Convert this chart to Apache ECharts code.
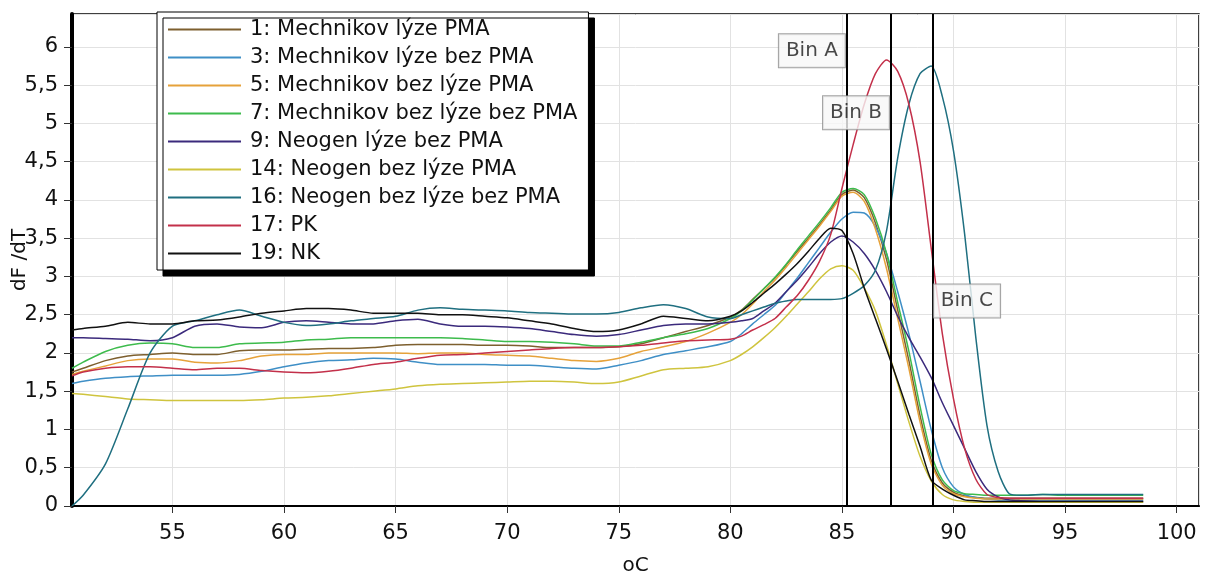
<!DOCTYPE html>
<html>
<head>
<meta charset="utf-8">
<script src="https://cdn.jsdelivr.net/npm/echarts@6/dist/echarts.min.js"></script>
<style>
  html, body { margin: 0; padding: 0; background: #fff; }
  #chart { width: 1208px; height: 575px; }
</style>
</head>
<body>
<div id="chart"></div>
<script>
// Melting temperatures (°C) shared by every curve
const temps = [
  50.5, 51, 52, 53, 54, 55, 56, 57, 58, 59, 60, 61, 62, 63, 64, 65, 66, 67, 68, 69,
  70, 71, 72, 73, 74, 75, 76, 77, 78, 79, 80, 80.5, 81, 81.5, 82, 82.5, 83, 83.5,
  84, 84.5, 85, 85.5, 86, 86.5, 87, 87.5, 88, 88.5, 89, 89.5, 90, 90.5, 91, 91.5,
  92, 92.5, 93, 94, 95, 96, 97, 98.5
];

const seriesNames = [
  '1: Mechnikov lýze PMA',
  '3: Mechnikov lýze bez PMA',
  '5: Mechnikov bez lýze PMA',
  '7: Mechnikov bez lýze bez PMA',
  '9: Neogen lýze bez PMA',
  '14: Neogen bez lýze PMA',
  '16: Neogen bez lýze bez PMA',
  '17: PK',
  '19: NK'
];

// dF/dT melt curves, one value per temperature above
const s1 = [
  1.75, 1.8, 1.9, 1.96, 1.98, 2.0, 1.98, 1.98, 2.03, 2.04, 2.04, 2.05, 2.06, 2.06, 2.07, 2.1, 2.11, 2.11, 2.11, 2.1,
  2.1, 2.09, 2.07, 2.07, 2.07, 2.08, 2.12, 2.2, 2.28, 2.36, 2.47,
  2.56, 2.7, 2.84, 2.98, 3.15, 3.33, 3.5, 3.68, 3.87, 4.07, 4.13, 4.03, 3.7, 3.22, 2.56, 1.9, 1.18, 0.6, 0.3, 0.18,
  0.13, 0.11, 0.1, 0.1, 0.1, 0.1, 0.1, 0.1, 0.1, 0.1, 0.1
];
const s3 = [
  1.6, 1.63, 1.67, 1.69, 1.7, 1.71, 1.71, 1.71, 1.72, 1.76, 1.82, 1.87, 1.9, 1.91, 1.93, 1.92, 1.88, 1.85, 1.85, 1.85,
  1.84, 1.84, 1.82, 1.8, 1.79, 1.84, 1.9, 1.98, 2.03, 2.08, 2.15,
  2.25, 2.38, 2.5, 2.62, 2.8, 2.98, 3.18, 3.38, 3.58, 3.75, 3.84, 3.83, 3.65, 3.3, 2.8, 2.25, 1.63, 1.0, 0.5, 0.25,
  0.15, 0.11, 0.09, 0.08, 0.08, 0.08, 0.08, 0.08, 0.08, 0.08, 0.08
];
const s5 = [
  1.72, 1.76, 1.83, 1.9, 1.92, 1.92, 1.88, 1.87, 1.9, 1.96, 1.98, 1.98, 2.0, 2.0, 2.0, 2.0, 1.99, 2.0, 2.0, 1.98,
  1.97, 1.96, 1.93, 1.9, 1.89, 1.93, 2.02, 2.08, 2.15, 2.26, 2.4,
  2.5, 2.64, 2.8, 2.95, 3.12, 3.3, 3.48, 3.66, 3.85, 4.05, 4.1, 3.98, 3.62, 3.1, 2.45, 1.8, 1.1, 0.55, 0.27, 0.16,
  0.12, 0.1, 0.09, 0.09, 0.09, 0.09, 0.09, 0.09, 0.09, 0.09, 0.09
];
const s7 = [
  1.8, 1.88, 2.02, 2.1, 2.13, 2.12, 2.07, 2.07, 2.12, 2.13, 2.14, 2.17, 2.18, 2.2, 2.2, 2.2, 2.2, 2.2, 2.19, 2.17,
  2.15, 2.15, 2.14, 2.12, 2.09, 2.09, 2.14, 2.2, 2.25, 2.32, 2.45,
  2.55, 2.69, 2.84, 2.99, 3.16, 3.35, 3.53, 3.71, 3.9, 4.1, 4.15, 4.07, 3.76, 3.3, 2.66, 2.02, 1.3, 0.68, 0.34, 0.2,
  0.16, 0.15, 0.14, 0.14, 0.14, 0.14, 0.15, 0.14, 0.14, 0.14, 0.14
];
const s9 = [
  2.2, 2.2, 2.19, 2.18, 2.16, 2.2, 2.35, 2.38, 2.34, 2.33, 2.4, 2.42, 2.4, 2.38, 2.38, 2.42, 2.44, 2.38, 2.35, 2.35,
  2.34, 2.32, 2.28, 2.24, 2.22, 2.24, 2.3, 2.36, 2.38, 2.38, 2.4,
  2.42, 2.45, 2.55, 2.65, 2.8, 2.95, 3.12, 3.3, 3.45, 3.53, 3.45, 3.3, 3.08, 2.8, 2.48, 2.2, 1.95, 1.68, 1.35, 1.05,
  0.75, 0.45, 0.22, 0.12, 0.08, 0.07, 0.06, 0.06, 0.06, 0.06, 0.06
];
const s14 = [
  1.47, 1.46, 1.43, 1.4, 1.39, 1.38, 1.38, 1.38, 1.38, 1.39, 1.41, 1.42, 1.44, 1.47, 1.5, 1.53, 1.57, 1.59, 1.6, 1.61,
  1.62, 1.63, 1.63, 1.62, 1.6, 1.62, 1.7, 1.78, 1.8, 1.82, 1.9,
  1.98, 2.08, 2.2, 2.33, 2.48, 2.64, 2.8, 2.97, 3.1, 3.14, 3.08, 2.85, 2.55, 2.1, 1.6, 1.1, 0.65, 0.33, 0.15, 0.08,
  0.06, 0.05, 0.05, 0.05, 0.05, 0.05, 0.05, 0.05, 0.05, 0.05, 0.05
];
const s16 = [
  0, 0.14, 0.55, 1.27, 2.0, 2.35, 2.42, 2.5, 2.56, 2.48, 2.4, 2.36, 2.38, 2.42, 2.45, 2.48, 2.56, 2.59, 2.57, 2.56,
  2.55, 2.53, 2.52, 2.51, 2.51, 2.53, 2.59, 2.63, 2.58, 2.47, 2.45,
  2.5, 2.55, 2.6, 2.65, 2.68, 2.7, 2.7, 2.7, 2.7, 2.71, 2.78, 2.88, 3.08, 3.6, 4.55, 5.25, 5.65, 5.75, 5.35, 4.64,
  3.55, 2.2, 1.05, 0.45, 0.16, 0.14, 0.15, 0.15, 0.15, 0.15, 0.15
];
const s17 = [
  1.7, 1.75, 1.8, 1.82, 1.82, 1.8, 1.78, 1.8, 1.8, 1.77, 1.75, 1.74, 1.76, 1.8, 1.85, 1.88, 1.93, 1.97, 1.98, 2.0,
  2.02, 2.04, 2.06, 2.07, 2.07, 2.08, 2.1, 2.13, 2.16, 2.17, 2.18,
  2.22, 2.3, 2.37, 2.45, 2.6, 2.75, 2.95, 3.2, 3.55, 4.15, 4.72, 5.25, 5.65, 5.83, 5.68, 5.25, 4.5, 3.37, 2.25, 1.4,
  0.75, 0.35, 0.15, 0.11, 0.1, 0.1, 0.1, 0.1, 0.1, 0.1, 0.1
];
const s19 = [
  2.3, 2.32, 2.35, 2.4, 2.38, 2.38, 2.42, 2.43, 2.47, 2.52, 2.55, 2.58, 2.58, 2.56, 2.52, 2.52, 2.52, 2.5, 2.5, 2.48,
  2.46, 2.42, 2.38, 2.32, 2.28, 2.3, 2.38, 2.48, 2.45, 2.42, 2.48,
  2.55, 2.66, 2.78, 2.9, 3.03, 3.17, 3.33, 3.5, 3.63, 3.6, 3.3, 2.85, 2.45, 2.05, 1.63, 1.2, 0.78, 0.34, 0.22, 0.14,
  0.08, 0.07, 0.06, 0.06, 0.06, 0.06, 0.06, 0.06, 0.06, 0.06, 0.06
];

// Bin markers: temperature of each vertical line and the height of its tag
const binNames = ['Bin A', 'Bin B', 'Bin C'];
const binTemps = [85.2, 87.18, 89.05];
const binTagY = [5.95, 5.14, 2.68];
const binTagSide = ['left', 'left', 'right'];

const curves = [s1, s3, s5, s7, s9, s14, s16, s17, s19];
const colors = ['#7d5f2e', '#3f8fc6', '#e6a23a', '#3dbb4c', '#3b2a7c', '#cfc43e', '#1f6f80', '#c3304a', '#111111'];

const FONT = 'DejaVu Sans';

const lineSeries = curves.map((vals, i) => ({
  name: seriesNames[i],
  type: 'line',
  data: temps.map((t, k) => [t, vals[k]]),
  showSymbol: false,
  smooth: 0.25,
  lineStyle: { color: colors[i], width: 1.5 },
  itemStyle: { color: colors[i] },
  emphasis: { disabled: true },
  z: 2
}));

const binSeries = {
  name: 'bins',
  type: 'scatter',
  data: binTemps.map((t, i) => ({
    value: [t, binTagY[i]],
    label: { position: binTagSide[i] }
  })),
  symbolSize: 1,
  itemStyle: { color: 'rgba(0,0,0,0)' },
  label: {
    show: true,
    formatter: (p) => binNames[p.dataIndex],
    fontFamily: FONT,
    fontSize: 20,
    color: '#1a1a1a',
    backgroundColor: '#f8f8f8',
    borderColor: '#8a8a8a',
    borderWidth: 1,
    padding: [7, 7, 6, 7],
    distance: 1
  },
  markLine: {
    silent: true,
    symbol: ['none', 'none'],
    label: { show: false },
    lineStyle: { color: '#000', width: 2, type: 'solid' },
    data: binTemps.map((t) => ({ xAxis: t }))
  },
  z: 5
};

const chart = echarts.init(document.getElementById('chart'), null, { renderer: 'canvas' });

chart.setOption({
  animation: false,
  backgroundColor: '#ffffff',
  textStyle: { fontFamily: FONT },
  grid: {
    left: 72, right: 9, top: 14, bottom: 69,
    containLabel: false,
    outerBoundsMode: 'none',
    show: true,
    borderColor: '#000',
    borderWidth: 1.5,
    backgroundColor: '#fff'
  },
  legend: {
    data: seriesNames,
    orient: 'vertical',
    left: 157,
    top: 12,
    icon: 'rect',
    itemWidth: 73,
    itemHeight: 2,
    itemGap: 7,
    padding: [7, 11, 6, 11],
    backgroundColor: '#fff',
    borderColor: '#000',
    borderWidth: 1,
    shadowColor: '#000',
    shadowBlur: 0,
    shadowOffsetX: 6,
    shadowOffsetY: 6,
    selectedMode: false,
    textStyle: {
      fontFamily: FONT,
      fontSize: 21,
      lineHeight: 21,
      color: '#111',
      padding: [0, 0, 0, 4]
    },
    z: 10
  },
  xAxis: {
    type: 'value',
    min: 50.5,
    max: 101,
    splitNumber: 10,
    name: 'oC',
    nameLocation: 'middle',
    nameGap: 50,
    nameMoveOverlap: false,
    nameTextStyle: { fontFamily: FONT, fontSize: 20, color: '#111' },
    axisLine: { show: true, onZero: false, lineStyle: { color: '#000', width: 2 } },
    axisTick: { show: true, inside: false, length: 7, lineStyle: { color: '#333', width: 1 } },
    axisLabel: {
      fontFamily: FONT, fontSize: 21, color: '#111', margin: 17,
      showMinLabel: false, showMaxLabel: false
    },
    splitLine: { show: true, lineStyle: { color: '#e2e2e2', width: 1 } }
  },
  yAxis: {
    type: 'value',
    min: 0,
    max: 6.43,
    splitNumber: 13,
    name: 'dF /dT',
    nameLocation: 'middle',
    nameRotate: 90,
    nameGap: 42,
    nameMoveOverlap: false,
    nameTextStyle: { fontFamily: FONT, fontSize: 20, color: '#111' },
    axisLine: { show: true, lineStyle: { color: '#000', width: 4 } },
    axisTick: { show: true, inside: false, length: 8, lineStyle: { color: '#333', width: 1 } },
    axisLabel: {
      fontFamily: FONT, fontSize: 21, color: '#111', margin: 14,
      showMaxLabel: false,
      formatter: (v) => String(v).replace('.', ',')
    },
    splitLine: { show: true, lineStyle: { color: '#e2e2e2', width: 1 } }
  },
  series: [...lineSeries, binSeries]
});
</script>
</body>
</html>
